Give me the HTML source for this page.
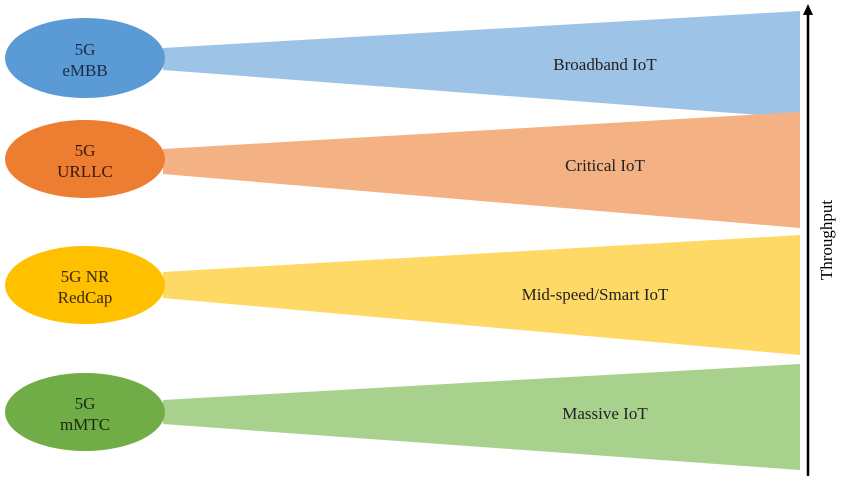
<!DOCTYPE html>
<html><head><style>body{margin:0;background:#fff}svg{display:block}text{font-family:"Liberation Serif",serif;font-size:17px;text-anchor:middle}</style></head>
<body><svg width="845" height="485" xmlns="http://www.w3.org/2000/svg">
<polygon points="163,48 800,11 800,118 163,70" fill="#9dc3e6"/>
<polygon points="163,149 800,112 800,228 163,174" fill="#f4b183"/>
<polygon points="163,272 800,235 800,355 163,298" fill="#ffd966"/>
<polygon points="163,400 800,364 800,470 163,424" fill="#a9d18e"/>
<ellipse cx="85" cy="58" rx="80" ry="40" fill="#5b9bd5"/>
<ellipse cx="85" cy="159" rx="80" ry="39" fill="#ed7d31"/>
<ellipse cx="85" cy="285" rx="80" ry="39" fill="#ffc000"/>
<ellipse cx="85" cy="412" rx="80" ry="39" fill="#70ad47"/>
<g fill="#1f2a44" font-size="18"><text x="85" y="55">5G</text><text x="85" y="76">eMBB</text></g>
<g fill="#3a1a0a" font-size="18"><text x="85" y="156">5G</text><text x="85" y="177">URLLC</text></g>
<g fill="#3a2a0a" font-size="18"><text x="85" y="282">5G NR</text><text x="85" y="303">RedCap</text></g>
<g fill="#1a2a10" font-size="18"><text x="85" y="409">5G</text><text x="85" y="430">mMTC</text></g>
<g fill="#222"><text x="605" y="70">Broadband IoT</text><text x="605" y="171">Critical IoT</text><text x="595" y="300">Mid-speed/Smart IoT</text><text x="605" y="419">Massive IoT</text></g>
<line x1="808" y1="476" x2="808" y2="14" stroke="#000" stroke-width="2.5"/>
<polygon points="803,15 813,15 808,4" fill="#000"/>
<text transform="translate(832,240) rotate(-90)" fill="#000" font-size="17">Throughput</text>
</svg></body></html>
